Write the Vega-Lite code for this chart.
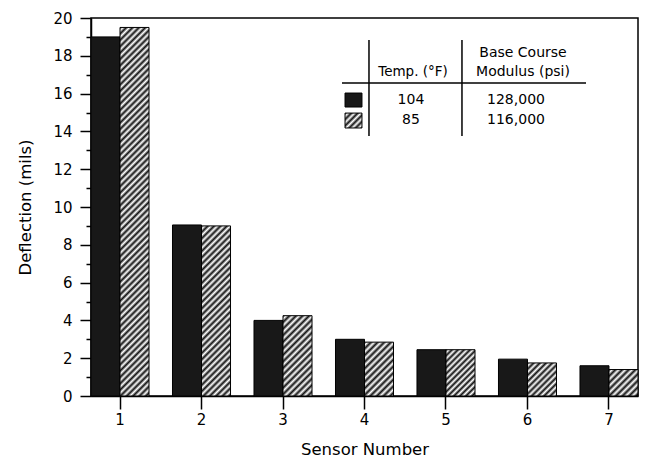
{
"$schema":"https://vega.github.io/schema/vega-lite/v6.json",
"autosize":"none",
"width":547,"height":378,
"padding":{"left":91,"top":18,"right":8,"bottom":66},
"background":"#ffffff",
"config":{"view":{"stroke":"#000","strokeWidth":1.5},
"axis":{"domainColor":"#000","domainWidth":1.5,"tickColor":"#000","tickWidth":1.5,"labelColor":"#000","titleColor":"#000","labelFont":"DejaVu Sans","titleFont":"DejaVu Sans","labelFontSize":15,"titleFontSize":16.5,"titleFontWeight":"normal","grid":false},
"text":{"font":"DejaVu Sans","color":"#000"}},
"layer":[
{
"data":{"values":[
{"sensor":1,"temp":"104","deflection":19.0},{"sensor":1,"temp":"85","deflection":19.5},
{"sensor":2,"temp":"104","deflection":9.05},{"sensor":2,"temp":"85","deflection":9.0},
{"sensor":3,"temp":"104","deflection":4.0},{"sensor":3,"temp":"85","deflection":4.25},
{"sensor":4,"temp":"104","deflection":3.0},{"sensor":4,"temp":"85","deflection":2.85},
{"sensor":5,"temp":"104","deflection":2.45},{"sensor":5,"temp":"85","deflection":2.45},
{"sensor":6,"temp":"104","deflection":1.95},{"sensor":6,"temp":"85","deflection":1.75},
{"sensor":7,"temp":"104","deflection":1.6},{"sensor":7,"temp":"85","deflection":1.4}
]},
"encoding":{
"x":{"field":"sensor","type":"ordinal","scale":{"paddingInner":0.288,"paddingOuter":0},"axis":{"title":"Sensor Number","labelAngle":0,"tickSize":13,"labelPadding":3,"titlePadding":14}},
"xOffset":{"field":"temp","type":"nominal","scale":{"domain":["104","85"],"paddingInner":0,"paddingOuter":0}},
"y":{"field":"deflection","type":"quantitative","scale":{"domain":[0,20],"nice":false},"axis":{"title":"Deflection (mils)","values":[0,1,2,3,4,5,6,7,8,9,10,11,12,13,14,15,16,17,18,19,20],"labelExpr":"datum.value % 2 === 0 ? datum.label : ''","tickSize":{"condition":{"test":"datum.value % 2 === 0","value":11},"value":5},"labelPadding":8,"titlePadding":19}}
},
"layer":[
{"transform":[{"filter":"datum.temp === '104'"}],"mark":{"type":"bar","fill":"#181818","stroke":"#000","strokeWidth":1}},
{"transform":[{"filter":"datum.temp === '85' && datum.sensor === 1"}],"mark":{"type":"bar","stroke":"#000","strokeWidth":1,"fill":{"gradient":"linear","x1":0,"y1":0,"x2":0.08436,"y2":1.07207,"stops":[
{"offset":0,"color":"#111"},{"offset":0.008,"color":"#fff"},{"offset":0.016,"color":"#111"},{"offset":0.024,"color":"#fff"},{"offset":0.032,"color":"#111"},{"offset":0.04,"color":"#fff"},{"offset":0.048,"color":"#111"},{"offset":0.056,"color":"#fff"},{"offset":0.064,"color":"#111"},{"offset":0.072,"color":"#fff"},{"offset":0.08,"color":"#111"},{"offset":0.088,"color":"#fff"},{"offset":0.096,"color":"#111"},{"offset":0.104,"color":"#fff"},{"offset":0.112,"color":"#111"},{"offset":0.12,"color":"#fff"},{"offset":0.128,"color":"#111"},{"offset":0.136,"color":"#fff"},{"offset":0.144,"color":"#111"},{"offset":0.152,"color":"#fff"},{"offset":0.16,"color":"#111"},{"offset":0.168,"color":"#fff"},{"offset":0.176,"color":"#111"},{"offset":0.184,"color":"#fff"},{"offset":0.192,"color":"#111"},{"offset":0.2,"color":"#fff"},{"offset":0.208,"color":"#111"},{"offset":0.216,"color":"#fff"},{"offset":0.224,"color":"#111"},{"offset":0.232,"color":"#fff"},{"offset":0.24,"color":"#111"},{"offset":0.248,"color":"#fff"},{"offset":0.256,"color":"#111"},{"offset":0.264,"color":"#fff"},{"offset":0.272,"color":"#111"},{"offset":0.28,"color":"#fff"},{"offset":0.288,"color":"#111"},{"offset":0.296,"color":"#fff"},{"offset":0.304,"color":"#111"},{"offset":0.312,"color":"#fff"},{"offset":0.32,"color":"#111"},{"offset":0.328,"color":"#fff"},{"offset":0.336,"color":"#111"},{"offset":0.344,"color":"#fff"},{"offset":0.352,"color":"#111"},{"offset":0.36,"color":"#fff"},{"offset":0.368,"color":"#111"},{"offset":0.376,"color":"#fff"},{"offset":0.384,"color":"#111"},{"offset":0.392,"color":"#fff"},{"offset":0.4,"color":"#111"},{"offset":0.408,"color":"#fff"},{"offset":0.416,"color":"#111"},{"offset":0.424,"color":"#fff"},{"offset":0.432,"color":"#111"},{"offset":0.44,"color":"#fff"},{"offset":0.448,"color":"#111"},{"offset":0.456,"color":"#fff"},{"offset":0.464,"color":"#111"},{"offset":0.472,"color":"#fff"},{"offset":0.48,"color":"#111"},{"offset":0.488,"color":"#fff"},{"offset":0.496,"color":"#111"},{"offset":0.504,"color":"#fff"},{"offset":0.512,"color":"#111"},{"offset":0.52,"color":"#fff"},{"offset":0.528,"color":"#111"},{"offset":0.536,"color":"#fff"},{"offset":0.544,"color":"#111"},{"offset":0.552,"color":"#fff"},{"offset":0.56,"color":"#111"},{"offset":0.568,"color":"#fff"},{"offset":0.576,"color":"#111"},{"offset":0.584,"color":"#fff"},{"offset":0.592,"color":"#111"},{"offset":0.6,"color":"#fff"},{"offset":0.608,"color":"#111"},{"offset":0.616,"color":"#fff"},{"offset":0.624,"color":"#111"},{"offset":0.632,"color":"#fff"},{"offset":0.64,"color":"#111"},{"offset":0.648,"color":"#fff"},{"offset":0.656,"color":"#111"},{"offset":0.664,"color":"#fff"},{"offset":0.672,"color":"#111"},{"offset":0.68,"color":"#fff"},{"offset":0.688,"color":"#111"},{"offset":0.696,"color":"#fff"},{"offset":0.704,"color":"#111"},{"offset":0.712,"color":"#fff"},{"offset":0.72,"color":"#111"},{"offset":0.728,"color":"#fff"},{"offset":0.736,"color":"#111"},{"offset":0.744,"color":"#fff"},{"offset":0.752,"color":"#111"},{"offset":0.76,"color":"#fff"},{"offset":0.768,"color":"#111"},{"offset":0.776,"color":"#fff"},{"offset":0.784,"color":"#111"},{"offset":0.792,"color":"#fff"},{"offset":0.8,"color":"#111"},{"offset":0.808,"color":"#fff"},{"offset":0.816,"color":"#111"},{"offset":0.824,"color":"#fff"},{"offset":0.832,"color":"#111"},{"offset":0.84,"color":"#fff"},{"offset":0.848,"color":"#111"},{"offset":0.856,"color":"#fff"},{"offset":0.864,"color":"#111"},{"offset":0.872,"color":"#fff"},{"offset":0.88,"color":"#111"},{"offset":0.888,"color":"#fff"},{"offset":0.896,"color":"#111"},{"offset":0.904,"color":"#fff"},{"offset":0.912,"color":"#111"},{"offset":0.92,"color":"#fff"},{"offset":0.928,"color":"#111"},{"offset":0.936,"color":"#fff"},{"offset":0.944,"color":"#111"},{"offset":0.952,"color":"#fff"},{"offset":0.96,"color":"#111"},{"offset":0.968,"color":"#fff"},{"offset":0.976,"color":"#111"},{"offset":0.984,"color":"#fff"},{"offset":0.992,"color":"#111"},{"offset":1,"color":"#fff"}
]}}},
{"transform":[{"filter":"datum.temp === '85' && datum.sensor === 2"}],"mark":{"type":"bar","stroke":"#000","strokeWidth":1,"fill":{"gradient":"linear","x1":0,"y1":0,"x2":0.19392,"y2":1.13742,"stops":[
{"offset":0,"color":"#111"},{"offset":0.016,"color":"#fff"},{"offset":0.032,"color":"#111"},{"offset":0.048,"color":"#fff"},{"offset":0.064,"color":"#111"},{"offset":0.08,"color":"#fff"},{"offset":0.096,"color":"#111"},{"offset":0.112,"color":"#fff"},{"offset":0.128,"color":"#111"},{"offset":0.144,"color":"#fff"},{"offset":0.16,"color":"#111"},{"offset":0.176,"color":"#fff"},{"offset":0.192,"color":"#111"},{"offset":0.208,"color":"#fff"},{"offset":0.224,"color":"#111"},{"offset":0.24,"color":"#fff"},{"offset":0.256,"color":"#111"},{"offset":0.272,"color":"#fff"},{"offset":0.288,"color":"#111"},{"offset":0.304,"color":"#fff"},{"offset":0.32,"color":"#111"},{"offset":0.336,"color":"#fff"},{"offset":0.352,"color":"#111"},{"offset":0.368,"color":"#fff"},{"offset":0.384,"color":"#111"},{"offset":0.4,"color":"#fff"},{"offset":0.416,"color":"#111"},{"offset":0.432,"color":"#fff"},{"offset":0.448,"color":"#111"},{"offset":0.464,"color":"#fff"},{"offset":0.48,"color":"#111"},{"offset":0.496,"color":"#fff"},{"offset":0.512,"color":"#111"},{"offset":0.528,"color":"#fff"},{"offset":0.544,"color":"#111"},{"offset":0.56,"color":"#fff"},{"offset":0.576,"color":"#111"},{"offset":0.592,"color":"#fff"},{"offset":0.608,"color":"#111"},{"offset":0.624,"color":"#fff"},{"offset":0.64,"color":"#111"},{"offset":0.656,"color":"#fff"},{"offset":0.672,"color":"#111"},{"offset":0.688,"color":"#fff"},{"offset":0.704,"color":"#111"},{"offset":0.72,"color":"#fff"},{"offset":0.736,"color":"#111"},{"offset":0.752,"color":"#fff"},{"offset":0.768,"color":"#111"},{"offset":0.784,"color":"#fff"},{"offset":0.8,"color":"#111"},{"offset":0.816,"color":"#fff"},{"offset":0.832,"color":"#111"},{"offset":0.848,"color":"#fff"},{"offset":0.864,"color":"#111"},{"offset":0.88,"color":"#fff"},{"offset":0.896,"color":"#111"},{"offset":0.912,"color":"#fff"},{"offset":0.928,"color":"#111"},{"offset":0.944,"color":"#fff"},{"offset":0.96,"color":"#111"},{"offset":0.976,"color":"#fff"},{"offset":0.992,"color":"#111"}
]}}},
{"transform":[{"filter":"datum.temp === '85' && datum.sensor === 3"}],"mark":{"type":"bar","stroke":"#000","strokeWidth":1,"fill":{"gradient":"linear","x1":0,"y1":0,"x2":0.43471,"y2":1.20407,"stops":[
{"offset":0,"color":"#111"},{"offset":0.03,"color":"#fff"},{"offset":0.06,"color":"#111"},{"offset":0.09,"color":"#fff"},{"offset":0.12,"color":"#111"},{"offset":0.15,"color":"#fff"},{"offset":0.18,"color":"#111"},{"offset":0.21,"color":"#fff"},{"offset":0.24,"color":"#111"},{"offset":0.27,"color":"#fff"},{"offset":0.3,"color":"#111"},{"offset":0.33,"color":"#fff"},{"offset":0.36,"color":"#111"},{"offset":0.39,"color":"#fff"},{"offset":0.42,"color":"#111"},{"offset":0.45,"color":"#fff"},{"offset":0.48,"color":"#111"},{"offset":0.51,"color":"#fff"},{"offset":0.54,"color":"#111"},{"offset":0.57,"color":"#fff"},{"offset":0.6,"color":"#111"},{"offset":0.63,"color":"#fff"},{"offset":0.66,"color":"#111"},{"offset":0.69,"color":"#fff"},{"offset":0.72,"color":"#111"},{"offset":0.75,"color":"#fff"},{"offset":0.78,"color":"#111"},{"offset":0.81,"color":"#fff"},{"offset":0.84,"color":"#111"},{"offset":0.87,"color":"#fff"},{"offset":0.9,"color":"#111"},{"offset":0.93,"color":"#fff"},{"offset":0.96,"color":"#111"},{"offset":0.99,"color":"#fff"}
]}}},
{"transform":[{"filter":"datum.temp === '85' && datum.sensor === 4"}],"mark":{"type":"bar","stroke":"#000","strokeWidth":1,"fill":{"gradient":"linear","x1":0,"y1":0,"x2":0.64212,"y2":1.19268,"stops":[
{"offset":0,"color":"#111"},{"offset":0.04,"color":"#fff"},{"offset":0.08,"color":"#111"},{"offset":0.12,"color":"#fff"},{"offset":0.16,"color":"#111"},{"offset":0.2,"color":"#fff"},{"offset":0.24,"color":"#111"},{"offset":0.28,"color":"#fff"},{"offset":0.32,"color":"#111"},{"offset":0.36,"color":"#fff"},{"offset":0.4,"color":"#111"},{"offset":0.44,"color":"#fff"},{"offset":0.48,"color":"#111"},{"offset":0.52,"color":"#fff"},{"offset":0.56,"color":"#111"},{"offset":0.6,"color":"#fff"},{"offset":0.64,"color":"#111"},{"offset":0.68,"color":"#fff"},{"offset":0.72,"color":"#111"},{"offset":0.76,"color":"#fff"},{"offset":0.8,"color":"#111"},{"offset":0.84,"color":"#fff"},{"offset":0.88,"color":"#111"},{"offset":0.92,"color":"#fff"},{"offset":0.96,"color":"#111"},{"offset":1,"color":"#fff"}
]}}},
{"transform":[{"filter":"datum.temp === '85' && datum.sensor === 5"}],"mark":{"type":"bar","stroke":"#000","strokeWidth":1,"fill":{"gradient":"linear","x1":0,"y1":0,"x2":0.73156,"y2":1.16809,"stops":[
{"offset":0,"color":"#111"},{"offset":0.04,"color":"#fff"},{"offset":0.08,"color":"#111"},{"offset":0.12,"color":"#fff"},{"offset":0.16,"color":"#111"},{"offset":0.2,"color":"#fff"},{"offset":0.24,"color":"#111"},{"offset":0.28,"color":"#fff"},{"offset":0.32,"color":"#111"},{"offset":0.36,"color":"#fff"},{"offset":0.4,"color":"#111"},{"offset":0.44,"color":"#fff"},{"offset":0.48,"color":"#111"},{"offset":0.52,"color":"#fff"},{"offset":0.56,"color":"#111"},{"offset":0.6,"color":"#fff"},{"offset":0.64,"color":"#111"},{"offset":0.68,"color":"#fff"},{"offset":0.72,"color":"#111"},{"offset":0.76,"color":"#fff"},{"offset":0.8,"color":"#111"},{"offset":0.84,"color":"#fff"},{"offset":0.88,"color":"#111"},{"offset":0.92,"color":"#fff"},{"offset":0.96,"color":"#111"},{"offset":1,"color":"#fff"}
]}}},
{"transform":[{"filter":"datum.temp === '85' && datum.sensor === 6"}],"mark":{"type":"bar","stroke":"#000","strokeWidth":1,"fill":{"gradient":"linear","x1":0,"y1":0,"x2":0.93032,"y2":1.06105,"stops":[
{"offset":0,"color":"#111"},{"offset":0.05,"color":"#fff"},{"offset":0.1,"color":"#111"},{"offset":0.15,"color":"#fff"},{"offset":0.2,"color":"#111"},{"offset":0.25,"color":"#fff"},{"offset":0.3,"color":"#111"},{"offset":0.35,"color":"#fff"},{"offset":0.4,"color":"#111"},{"offset":0.45,"color":"#fff"},{"offset":0.5,"color":"#111"},{"offset":0.55,"color":"#fff"},{"offset":0.6,"color":"#111"},{"offset":0.65,"color":"#fff"},{"offset":0.7,"color":"#111"},{"offset":0.75,"color":"#fff"},{"offset":0.8,"color":"#111"},{"offset":0.85,"color":"#fff"},{"offset":0.9,"color":"#111"},{"offset":0.95,"color":"#fff"},{"offset":1,"color":"#111"}
]}}},
{"transform":[{"filter":"datum.temp === '85' && datum.sensor === 7"}],"mark":{"type":"bar","stroke":"#000","strokeWidth":1,"fill":{"gradient":"linear","x1":0,"y1":0,"x2":1.04362,"y2":0.95222,"stops":[
{"offset":0,"color":"#111"},{"offset":0.06,"color":"#fff"},{"offset":0.12,"color":"#111"},{"offset":0.18,"color":"#fff"},{"offset":0.24,"color":"#111"},{"offset":0.3,"color":"#fff"},{"offset":0.36,"color":"#111"},{"offset":0.42,"color":"#fff"},{"offset":0.48,"color":"#111"},{"offset":0.54,"color":"#fff"},{"offset":0.6,"color":"#111"},{"offset":0.66,"color":"#fff"},{"offset":0.72,"color":"#111"},{"offset":0.78,"color":"#fff"},{"offset":0.84,"color":"#111"},{"offset":0.9,"color":"#fff"},{"offset":0.96,"color":"#111"}
]}}}
]
},
{
"data":{"values":[{}]},
"layer":[
{"mark":{"type":"rule","stroke":"#000","strokeWidth":1.5},"encoding":{"x":{"datum":4.055,"type":"quantitative","scale":{"domain":[0.644,7.356],"nice":false,"zero":false},"axis":null},"y":{"datum":18.84,"type":"quantitative","scale":{"domain":[0,20],"nice":false},"axis":null},"y2":{"datum":13.76}}},
{"mark":{"type":"rule","stroke":"#000","strokeWidth":1.5},"encoding":{"x":{"datum":5.196,"type":"quantitative","scale":{"domain":[0.644,7.356],"nice":false,"zero":false},"axis":null},"y":{"datum":18.84,"type":"quantitative","scale":{"domain":[0,20],"nice":false},"axis":null},"y2":{"datum":13.76}}},
{"mark":{"type":"rule","stroke":"#000","strokeWidth":1.5},"encoding":{"x":{"datum":3.724,"type":"quantitative","scale":{"domain":[0.644,7.356],"nice":false,"zero":false},"axis":null},"x2":{"datum":6.718},"y":{"datum":16.56,"type":"quantitative","scale":{"domain":[0,20],"nice":false},"axis":null}}},
{"mark":{"type":"rect","fill":"#181818","stroke":"#000","strokeWidth":1},"encoding":{"x":{"datum":3.761,"type":"quantitative","scale":{"domain":[0.644,7.356],"nice":false,"zero":false},"axis":null},"x2":{"datum":3.969},"y":{"datum":16.03,"type":"quantitative","scale":{"domain":[0,20],"nice":false},"axis":null},"y2":{"datum":15.29}}},
{"mark":{"type":"rect","stroke":"#000","strokeWidth":1,"fill":{"gradient":"linear","x1":0,"y1":0,"x2":1.0592,"y2":0.933,"stops":[
{"offset":0,"color":"#111"},{"offset":0.1,"color":"#fff"},{"offset":0.2,"color":"#111"},{"offset":0.3,"color":"#fff"},{"offset":0.4,"color":"#111"},{"offset":0.5,"color":"#fff"},{"offset":0.6,"color":"#111"},{"offset":0.7,"color":"#fff"},{"offset":0.8,"color":"#111"},{"offset":0.9,"color":"#fff"},{"offset":1,"color":"#111"}
]}},"encoding":{"x":{"datum":3.761,"type":"quantitative","scale":{"domain":[0.644,7.356],"nice":false,"zero":false},"axis":null},"x2":{"datum":3.969},"y":{"datum":14.97,"type":"quantitative","scale":{"domain":[0,20],"nice":false},"axis":null},"y2":{"datum":14.18}}},
{"mark":{"type":"text","text":"Base Course","fontSize":14,"align":"center","baseline":"middle"},"encoding":{"x":{"datum":5.945,"type":"quantitative","scale":{"domain":[0.644,7.356],"nice":false,"zero":false},"axis":null},"y":{"datum":18.15,"type":"quantitative","scale":{"domain":[0,20],"nice":false},"axis":null}}},
{"mark":{"type":"text","text":"Modulus (psi)","fontSize":14,"align":"center","baseline":"middle"},"encoding":{"x":{"datum":5.945,"type":"quantitative","scale":{"domain":[0.644,7.356],"nice":false,"zero":false},"axis":null},"y":{"datum":17.14,"type":"quantitative","scale":{"domain":[0,20],"nice":false},"axis":null}}},
{"mark":{"type":"text","text":"Temp. (°F)","fontSize":13.5,"align":"center","baseline":"middle"},"encoding":{"x":{"datum":4.595,"type":"quantitative","scale":{"domain":[0.644,7.356],"nice":false,"zero":false},"axis":null},"y":{"datum":17.14,"type":"quantitative","scale":{"domain":[0,20],"nice":false},"axis":null}}},
{"mark":{"type":"text","text":"104","fontSize":14,"align":"center","baseline":"middle"},"encoding":{"x":{"datum":4.57,"type":"quantitative","scale":{"domain":[0.644,7.356],"nice":false,"zero":false},"axis":null},"y":{"datum":15.66,"type":"quantitative","scale":{"domain":[0,20],"nice":false},"axis":null}}},
{"mark":{"type":"text","text":"85","fontSize":14,"align":"center","baseline":"middle"},"encoding":{"x":{"datum":4.57,"type":"quantitative","scale":{"domain":[0.644,7.356],"nice":false,"zero":false},"axis":null},"y":{"datum":14.6,"type":"quantitative","scale":{"domain":[0,20],"nice":false},"axis":null}}},
{"mark":{"type":"text","text":"128,000","fontSize":14,"align":"center","baseline":"middle"},"encoding":{"x":{"datum":5.859,"type":"quantitative","scale":{"domain":[0.644,7.356],"nice":false,"zero":false},"axis":null},"y":{"datum":15.66,"type":"quantitative","scale":{"domain":[0,20],"nice":false},"axis":null}}},
{"mark":{"type":"text","text":"116,000","fontSize":14,"align":"center","baseline":"middle"},"encoding":{"x":{"datum":5.859,"type":"quantitative","scale":{"domain":[0.644,7.356],"nice":false,"zero":false},"axis":null},"y":{"datum":14.6,"type":"quantitative","scale":{"domain":[0,20],"nice":false},"axis":null}}}
]
}
],
"resolve":{"scale":{"x":"independent","y":"independent"}}
}
